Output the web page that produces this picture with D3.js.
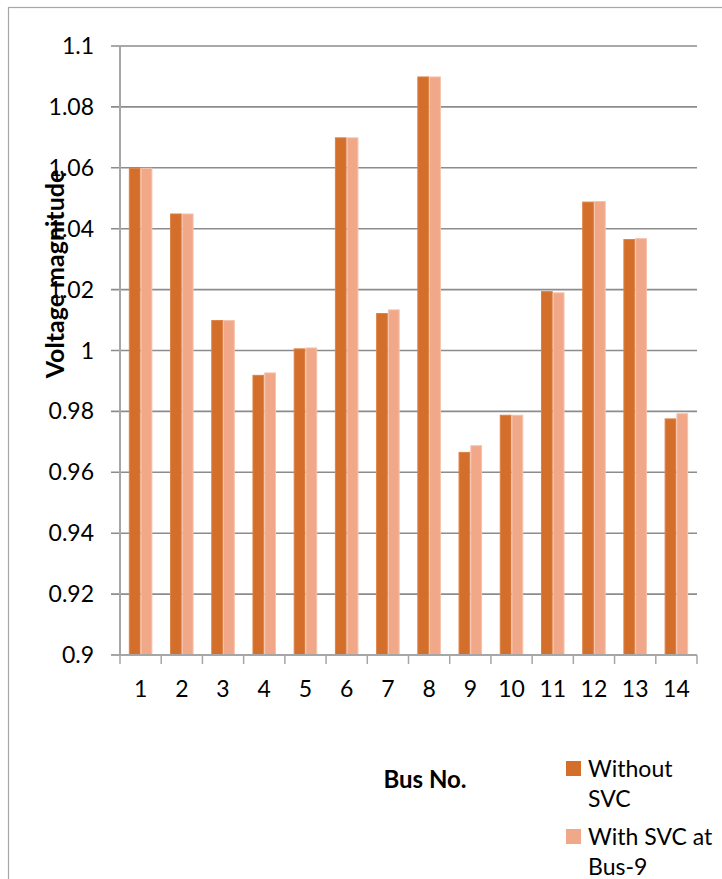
<!DOCTYPE html>
<html>
<head>
<meta charset="utf-8">
<script src="https://cdn.jsdelivr.net/npm/d3@7"></script>
<style>
  html, body { margin: 0; padding: 0; background: #fff; }
  svg { display: block; font-family: Lato, "Open Sans", sans-serif; }
</style>
</head>
<body>
<svg id="chart" width="722" height="879"></svg>
<script>
// Bus numbers of the 14-bus system
const buses = ["1", "2", "3", "4", "5", "6", "7", "8", "9", "10", "11", "12", "13", "14"];
// Voltage magnitude (p.u.) at each bus
const withoutSVC = [1.06, 1.045, 1.01, 0.992, 1.0007, 1.07, 1.0123, 1.09, 0.9667, 0.9789, 1.0195, 1.0489, 1.0366, 0.9777];
const withSVC    = [1.06, 1.045, 1.01, 0.9928, 1.001, 1.07, 1.0135, 1.09, 0.9689, 0.9789, 1.0191, 1.0491, 1.0369, 0.9794];
const seriesNames = ["Without SVC", "With SVC at Bus-9"];
const yTicks = [0.9, 0.92, 0.94, 0.96, 0.98, 1, 1.02, 1.04, 1.06, 1.08, 1.1];
const yTickLabels = ["0.9", "0.92", "0.94", "0.96", "0.98", "1", "1.02", "1.04", "1.06", "1.08", "1.1"];

const colors = ["#d36f2b", "#f0a888"];
const edgeColors = ["#dc8246", "#f6c2ad"];

const svg = d3.select("#chart");

// chart area frame
svg.append("rect")
  .attr("x", 8.5).attr("y", 7.5)
  .attr("width", 900).attr("height", 1000)
  .attr("fill", "none").attr("stroke", "#a6a6a6").attr("stroke-width", 1.2);

const plot = { left: 120, right: 697, top: 46, bottom: 655 };

const x = d3.scaleBand().domain(buses).range([plot.left, plot.right]);
// two bars per bus with a 150% gap between groups
const barW = x.bandwidth() / 3.5;
const xInner = d3.scaleBand().domain([0, 1]).range([0, 2 * barW]);
const y = d3.scaleLinear().domain([0.9, 1.1]).range([plot.bottom, plot.top]);

// horizontal gridlines with outward tick marks
svg.append("g").selectAll("line").data(yTicks.slice(1)).join("line")
  .attr("x1", plot.left - 9).attr("x2", plot.right)
  .attr("y1", d => y(d)).attr("y2", d => y(d))
  .attr("stroke", "#8c8c8c").attr("stroke-width", 1.6);

// bars
const series = [withoutSVC, withSVC];
const groups = svg.append("g").selectAll("g").data(series).join("g")
  .attr("fill", (d, i) => colors[i])
  .attr("stroke", (d, i) => edgeColors[i])
  .attr("stroke-width", 1);
groups.each(function (vals, si) {
  d3.select(this).selectAll("rect").data(vals).join("rect")
    .attr("x", (v, i) => x(buses[i]) + (x.bandwidth() - 2 * barW) / 2 + xInner(si) + 0.5)
    .attr("y", v => y(v) + 0.5)
    .attr("width", barW - 1)
    .attr("height", v => y(0.9) - y(v) - 0.5);
});

// value axis line
svg.append("line")
  .attr("x1", plot.left).attr("x2", plot.left)
  .attr("y1", plot.top).attr("y2", plot.bottom)
  .attr("stroke", "#a6a6a6").attr("stroke-width", 2);

// category axis line and boundary ticks
svg.append("line")
  .attr("x1", plot.left - 9).attr("x2", plot.right)
  .attr("y1", plot.bottom).attr("y2", plot.bottom)
  .attr("stroke", "#a6a6a6").attr("stroke-width", 2);
const bounds = buses.map(b => x(b)).concat([plot.right]);
svg.append("g").selectAll("line").data(bounds).join("line")
  .attr("x1", d => d).attr("x2", d => d)
  .attr("y1", plot.bottom).attr("y2", plot.bottom + 9)
  .attr("stroke", "#a6a6a6").attr("stroke-width", 1.5);

// y tick labels
svg.append("g").selectAll("text").data(yTicks).join("text")
  .attr("x", 94).attr("y", d => y(d))
  .attr("dy", "0.35em")
  .attr("text-anchor", "end")
  .attr("font-size", 23).attr("fill", "#000")
  .text((d, i) => yTickLabels[i]);

// x tick labels
svg.append("g").selectAll("text").data(buses).join("text")
  .attr("x", d => x(d) + x.bandwidth() / 2).attr("y", 689)
  .attr("dy", "0.35em")
  .attr("text-anchor", "middle")
  .attr("font-size", 23).attr("fill", "#000")
  .text(d => d);

// axis titles
svg.append("text")
  .attr("transform", "translate(55,274) rotate(-90)")
  .attr("dy", "0.35em")
  .attr("text-anchor", "middle")
  .attr("font-size", 25).attr("font-weight", "bold")
  .text("Voltage magnitude");

svg.append("text")
  .attr("x", 425).attr("y", 780)
  .attr("dy", "0.35em")
  .attr("text-anchor", "middle")
  .attr("font-size", 24).attr("font-weight", "bold")
  .text("Bus No.");

// legend
const legendLines = [["Without", "SVC"], ["With SVC at", "Bus-9"]];
const legend = svg.append("g");
legendLines.forEach((lines, i) => {
  const top = 761 + i * 68;
  legend.append("rect")
    .attr("x", 566).attr("y", top)
    .attr("width", 15).attr("height", 15)
    .attr("fill", colors[i]);
  lines.forEach((t, j) => {
    legend.append("text")
      .attr("x", 588).attr("y", top + 8 + j * 30)
      .attr("dy", "0.35em")
      .attr("font-size", 23)
      .text(t);
  });
});
</script>
</body>
</html>
